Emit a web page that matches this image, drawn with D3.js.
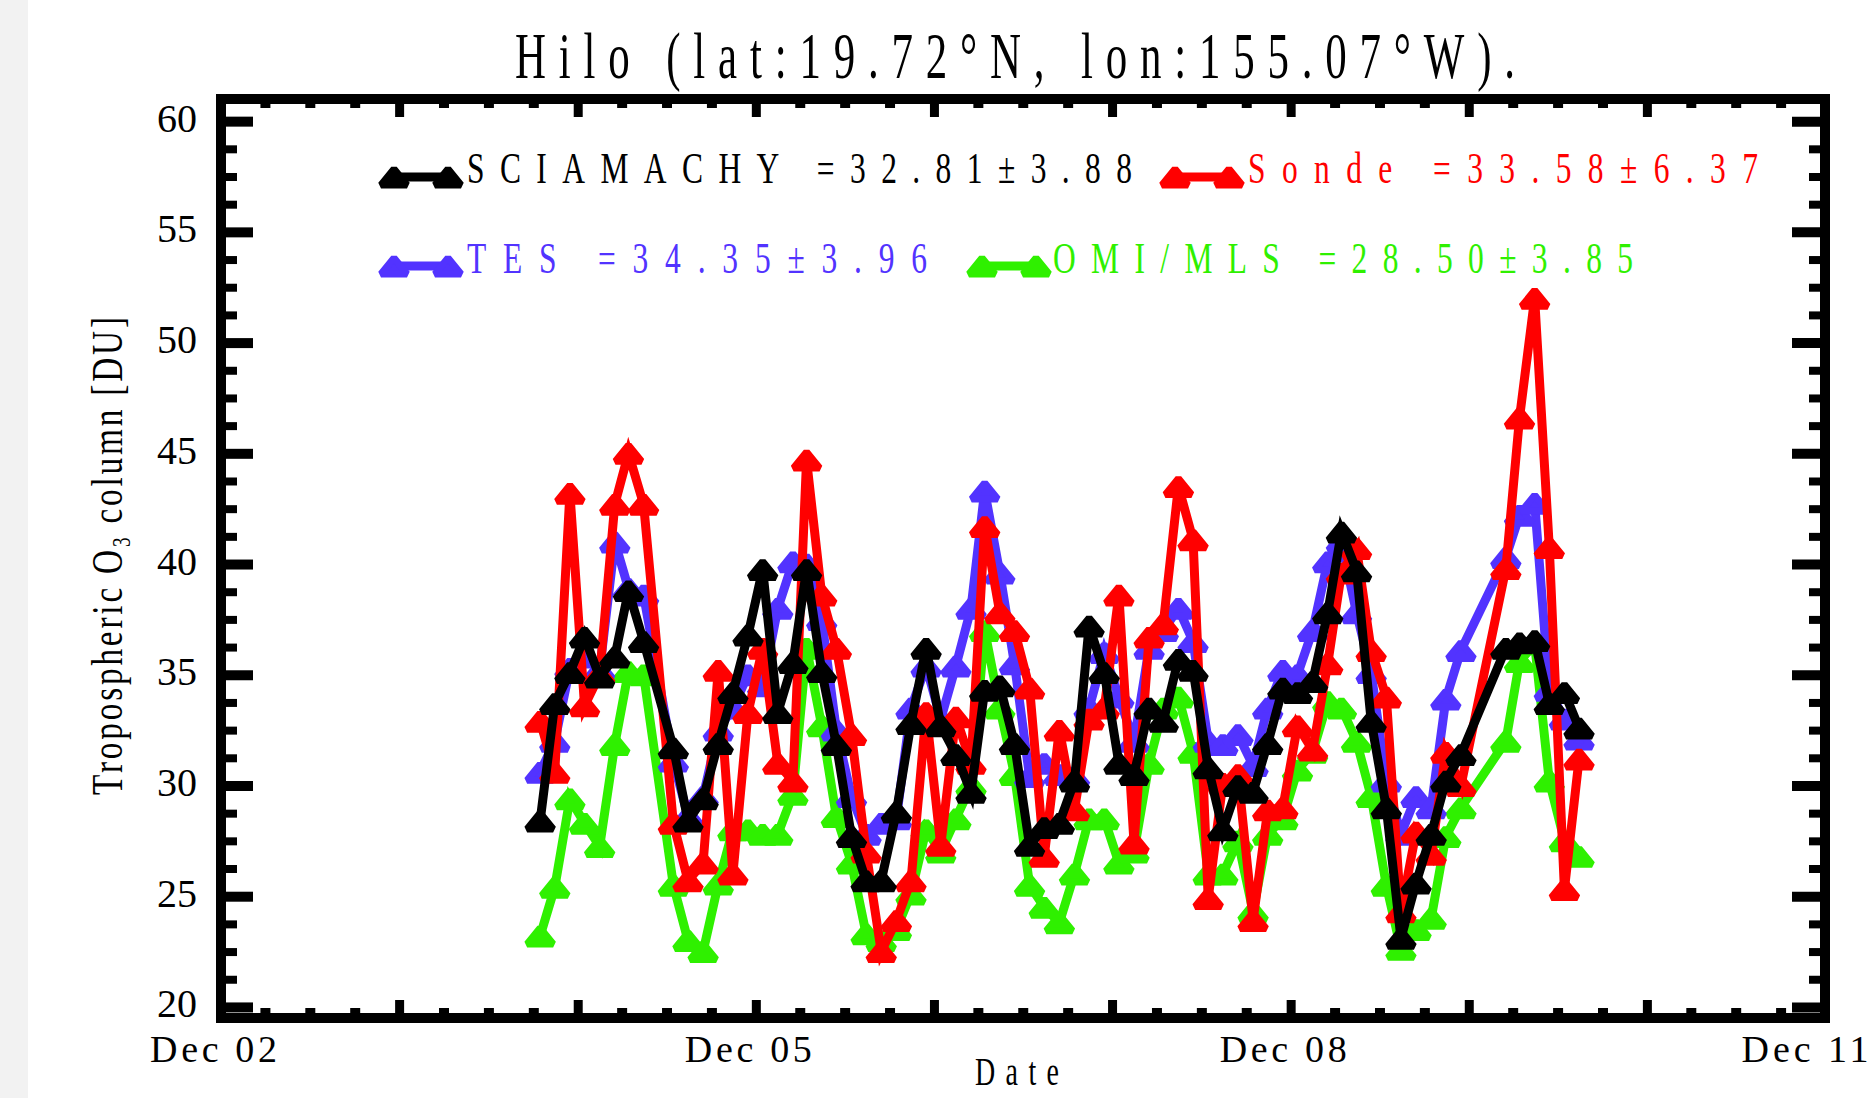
<!DOCTYPE html>
<html>
<head>
<meta charset="utf-8">
<script src="https://cdn.jsdelivr.net/npm/d3@7"></script>
<style>
  html, body { margin: 0; padding: 0; background: #fff; }
  svg { display: block; }
</style>
</head>
<body>
<svg id="chart"></svg>
<script>
// monthly values, Sep 2004 .. Jul 2010 (null = no data that month)
const firstMonth = [2004, 8];

const sciamachy = [
  28.4, 33.7, 35.1, 36.7, 34.9, 35.8, 38.8, 36.5, null, 31.7,
  28.4, 29.4, 31.9, 34.2, 36.8, 39.75, 33.3, 35.55, 39.75, 35.15,
  31.85, 27.7, 25.7, 25.7, 28.8, 32.8, 36.2, 32.7, 31.4, 29.7,
  34.3, 34.5, 31.9, 27.3, 28.1, 28.3, 30.2, 37.2, 35.1, 31.0,
  30.5, 33.5, 32.9, 35.7, 35.2, 30.8, 28.0, 30.0, 29.7, 31.9,
  34.4, 34.2, 34.7, 37.8, 41.45, 39.7, 32.9, 29.0, 23.1, 25.6,
  27.8, 30.2, 31.4, null, null, 36.2, 36.45, 36.55, 33.7, 34.2, 32.6
];

const sonde = [
  32.9, 30.6, 43.2, 33.6, 35.0, 42.7, 45.0, 42.7, null, 28.3,
  25.7, 26.5, 35.2, 26.0, 33.3, 36.2, 31.0, 30.2, 44.7, 38.6,
  36.2, 32.3, 27.0, 22.5, 23.9, 25.7, 33.3, 27.3, 33.1, 31.0,
  41.7, 37.8, 37.0, 34.4, 26.8, 32.5, 28.9, 33.0, 33.5, 38.6,
  27.4, 36.7, 37.3, 43.5, 41.1, 24.9, 30.1, 30.5, 23.9, 28.9,
  29.0, 32.7, 31.6, 35.5, 39.6, 40.7, 36.1, 34.0, 24.3, 27.9,
  26.9, 31.5, 30.0, null, null, 39.8, 46.6, 52.0, 40.75, 25.3, 31.2
];

const tes = [
  30.6, 32.0, 35.3, 35.8, 35.2, 41.0, 38.9, 38.6, null, 31.1,
  28.6, 29.5, 32.5, 33.5, 35.0, 34.5, 38.0, 40.1, 40.0, 37.5,
  32.5, 29.5, 27.8, 28.3, 28.5, 33.5, 35.4, 33.0, 35.4, 38.0,
  43.3, 39.6, 35.5, 30.4, 31.0, 30.5, 30.4, 33.5, 36.0, 34.0,
  32.0, 36.2, 37.0, 38.0, 36.5, 32.0, 31.85, 32.3, 30.9, 33.5,
  35.2, 35.0, 37.0, 40.1, 41.0, 37.8, 35.1, 30.2, 27.8, 29.5,
  29.0, 33.9, 36.1, null, null, 40.3, 42.2, 42.75, 34.3, 33.0, 32.1
];

const omiMls = [
  23.2, 25.4, 29.4, 28.3, 27.25, 31.85, 35.15, 35.0, null, 25.5,
  23.0, 22.5, 25.55, 28.0, 28.0, 27.8, 27.8, 29.6, 36.2, 32.7,
  28.6, 26.5, 23.3, 23.0, 23.5, 25.1, 28.0, 27.0, 28.5, 30.0,
  37.0, 33.5, 30.5, 25.5, 24.5, 23.8, 26.0, 28.5, 28.5, 26.5,
  27.0, 31.0, 33.5, 34.0, 31.5, 26.0, 26.0, 27.5, 24.3, 27.8,
  28.5, 30.7, 31.5, 33.8, 33.5, 32.0, 29.5, 25.5, 22.6, 23.5,
  24.0, 27.7, 29.0, null, null, 32.0, 35.6, 36.4, 30.2, 27.5, 26.8
];

const yMajorTicks = [20, 25, 30, 35, 40, 45, 50, 55, 60];
const xLabelYears = [2002, 2005, 2008, 2011];

const seriesInfo = [
  { name: "OMI/MLS", values: omiMls, color: "#2ff000", stats: "28.50±3.85" },
  { name: "TES", values: tes, color: "#5233ff", stats: "34.35±3.96" },
  { name: "Sonde", values: sonde, color: "#ff0000", stats: "33.58±6.37" },
  { name: "SCIAMACHY", values: sciamachy, color: "#000000", stats: "32.81±3.88" }
];

const W = 1872, H = 1098;
const serif = "'Liberation Serif','DejaVu Serif',serif";

const svg = d3.select("#chart")
  .attr("width", W)
  .attr("height", H)
  .attr("viewBox", `0 0 ${W} ${H}`)
  .style("font-family", serif);

svg.append("rect").attr("width", W).attr("height", H).attr("fill", "#fff");
svg.append("rect").attr("width", 28).attr("height", H).attr("fill", "#f2f2f2");

const x = d3.scaleTime()
  .domain([new Date(2002, 11, 1), new Date(2011, 11, 1)])
  .range([221, 1825]);

const y = d3.scaleLinear()
  .domain([19.5, 61])
  .range([1018, 99]);

const [x0, x1] = x.range();
const [yB, yT] = y.range();

// text drawn narrow and spread out, like the original vector font
function spacedText(parent, o) {
  const sx = o.sx || 0.7;
  const g = parent.append("g")
    .attr("transform", `translate(${o.x},${o.y}) rotate(${o.rotate || 0}) scale(${sx},1)`);
  const t = g.append("text")
    .attr("font-size", o.size)
    .attr("fill", o.fill || "#000")
    .attr("text-anchor", o.anchor || "start")
    .attr("textLength", o.width / sx)
    .attr("lengthAdjust", "spacing")
    .text(o.text);
  return t;
}

// ---- axes ----
const yMinor = d3.range(20, 61, 1.25).filter(v => !yMajorTicks.includes(v));
const xMajor = d3.range(2002, 2012).map(yr => new Date(yr, 11, 1));
const xMinor = d3.range(2003, 2012).flatMap(yr => [2, 5, 8].map(m => new Date(yr, m, 1)));

function styleTicks(g, w) {
  g.select(".domain").remove();
  g.selectAll(".tick line").attr("stroke", "#000").attr("stroke-width", w);
}

svg.append("g")
  .attr("transform", `translate(${x0},0)`)
  .call(d3.axisLeft(y).tickValues(yMajorTicks).tickSize(-32).tickPadding(24).tickFormat(d3.format("d")))
  .call(g => styleTicks(g, 10))
  .call(g => g.selectAll("text")
    .attr("font-size", 40).attr("font-family", serif).attr("fill", "#000").attr("dy", "0.25em"));

svg.append("g")
  .attr("transform", `translate(${x0},0)`)
  .call(d3.axisLeft(y).tickValues(yMinor).tickSize(-16).tickFormat(""))
  .call(g => styleTicks(g, 8));

svg.append("g")
  .attr("transform", `translate(${x1},0)`)
  .call(d3.axisRight(y).tickValues(yMajorTicks).tickSize(-33).tickFormat(""))
  .call(g => styleTicks(g, 10));

svg.append("g")
  .attr("transform", `translate(${x1},0)`)
  .call(d3.axisRight(y).tickValues(yMinor).tickSize(-16).tickFormat(""))
  .call(g => styleTicks(g, 8));

const fmt = d3.timeFormat("%b %y");
const lastYear = xLabelYears[xLabelYears.length - 1];
svg.append("g")
  .attr("transform", `translate(0,${yB})`)
  .call(d3.axisBottom(x).tickValues(xMajor).tickSize(-18).tickPadding(17)
    .tickFormat(d => xLabelYears.includes(d.getFullYear()) ? fmt(d) : ""))
  .call(g => styleTicks(g, 9))
  .call(g => g.selectAll("text")
    .attr("font-size", 38).attr("font-family", serif).attr("fill", "#000")
    .attr("dx", -8)
    .filter(function () { return this.textContent !== ""; })
    .attr("textLength", 127).attr("lengthAdjust", "spacing"))
  // the last label sits at the page edge: keep it fully inside
  .call(g => g.selectAll(".tick")
    .filter(d => d.getFullYear() === lastYear)
    .select("text")
    .attr("text-anchor", "end")
    .attr("dx", W - 4 - x(new Date(lastYear, 11, 1))));

svg.append("g")
  .attr("transform", `translate(0,${yB})`)
  .call(d3.axisBottom(x).tickValues(xMinor).tickSize(-10).tickFormat(""))
  .call(g => styleTicks(g, 10));

svg.append("g")
  .attr("transform", `translate(0,${yT})`)
  .call(d3.axisTop(x).tickValues(xMajor).tickSize(-18).tickFormat(""))
  .call(g => styleTicks(g, 9));

svg.append("g")
  .attr("transform", `translate(0,${yT})`)
  .call(d3.axisTop(x).tickValues(xMinor).tickSize(-9).tickFormat(""))
  .call(g => styleTicks(g, 10));

svg.append("rect")
  .attr("x", x0).attr("y", yT)
  .attr("width", x1 - x0).attr("height", yB - yT)
  .attr("fill", "none").attr("stroke", "#000").attr("stroke-width", 10);

// ---- series ----
const triangle = "M-13,8L0,-8L13,8Z";

const line = d3.line()
  .x(d => x(d.date))
  .y(d => y(d.v));

seriesInfo.forEach(s => {
  const pts = s.values
    .map((v, i) => ({ date: new Date(firstMonth[0], firstMonth[1] + i, 15), v }))
    .filter(d => d.v != null);

  const g = svg.append("g");
  g.append("path")
    .datum(pts)
    .attr("d", line)
    .attr("fill", "none")
    .attr("stroke", s.color)
    .attr("stroke-width", 9)
    .attr("stroke-linejoin", "miter");

  g.selectAll("path.mk")
    .data(pts)
    .join("path")
    .attr("class", "mk")
    .attr("d", triangle)
    .attr("transform", d => `translate(${x(d.date)},${y(d.v)})`)
    .attr("fill", s.color)
    .attr("stroke", s.color)
    .attr("stroke-width", 7)
    .attr("stroke-linejoin", "bevel");
});

// ---- legend ----
const legendLayout = [
  { name: "SCIAMACHY", mx: 378, my: 177, tx: 467, ty: 183, tw: 665 },
  { name: "Sonde", mx: 1159, my: 177, tx: 1248, ty: 183, tw: 510 },
  { name: "TES", mx: 378, my: 266, tx: 467, ty: 273, tw: 460 },
  { name: "OMI/MLS", mx: 966, my: 266, tx: 1053, ty: 273, tw: 580 }
];

legendLayout.forEach(l => {
  const s = seriesInfo.find(d => d.name === l.name);
  const g = svg.append("g");
  g.append("line")
    .attr("x1", l.mx + 16).attr("x2", l.mx + 70)
    .attr("y1", l.my).attr("y2", l.my)
    .attr("stroke", s.color).attr("stroke-width", 9);
  [l.mx + 16, l.mx + 70].forEach(cx => {
    g.append("path")
      .attr("d", triangle)
      .attr("transform", `translate(${cx},${l.my})`)
      .attr("fill", s.color).attr("stroke", s.color)
      .attr("stroke-width", 7).attr("stroke-linejoin", "bevel");
  });
  spacedText(svg, { text: `${s.name} =${s.stats}`, x: l.tx, y: l.ty, size: 45, width: l.tw, fill: s.color });
});

// ---- titles ----
spacedText(svg, { text: "Hilo (lat:19.72°N, lon:155.07°W).", x: 1015, y: 78, size: 65, width: 1000, anchor: "middle", sx: 0.66 });
spacedText(svg, { text: "Date", x: 1017, y: 1085, size: 40, width: 84, anchor: "middle" });

// y title with subscript
{
  const sx = 0.74;
  const g = svg.append("g").attr("transform", `translate(122,556) rotate(-90) scale(${sx},1)`);
  const t = g.append("text")
    .attr("font-size", 45)
    .attr("text-anchor", "middle")
    .attr("fill", "#000")
    .attr("textLength", 478 / sx)
    .attr("lengthAdjust", "spacing");
  t.append("tspan").text("Tropospheric O");
  t.append("tspan").attr("font-size", 26).attr("dy", 8).text("3");
  t.append("tspan").attr("dy", -8).text(" column [DU]");
}
</script>
</body>
</html>
